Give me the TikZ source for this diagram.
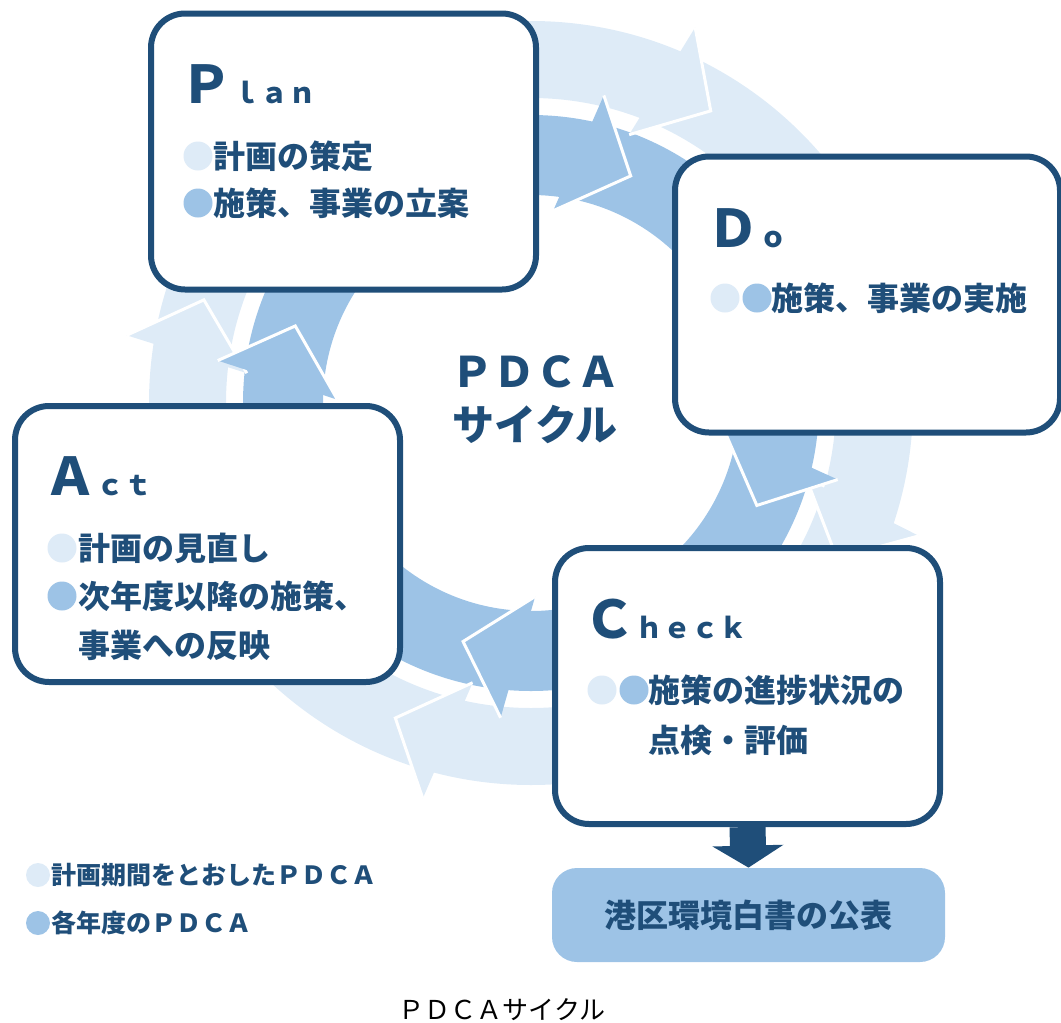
\documentclass[tikz,border=0pt]{standalone}
\usepackage{fontspec}
\setmainfont{Noto Sans CJK JP}
\usetikzlibrary{arrows.meta}
\definecolor{ringlight}{HTML}{DEEBF7}
\definecolor{ringmid}{HTML}{9DC3E6}
\definecolor{navy}{HTML}{1F4E79}

\begin{document}
\begin{tikzpicture}[x=0.5pt, y=-0.5pt,
  stage/.style={rectangle, draw=navy, line width=3pt, fill=white, rounded corners=17pt, minimum width=192.5pt, minimum height=138pt},
  pubbox/.style={rectangle, fill=ringmid, rounded corners=12.5pt, minimum width=196.5pt, minimum height=47pt, text=navy, font=\bfseries\fontsize{16pt}{20pt}\selectfont},
  big/.style={font=\bfseries\fontsize{26pt}{30pt}\selectfont, text=navy, inner sep=0, anchor=base west},
  item/.style={font=\bfseries\fontsize{16pt}{20pt}\selectfont, text=navy, inner sep=0, anchor=west},
  legend/.style={font=\bfseries\fontsize{12.5pt}{15pt}\selectfont, text=navy, inner sep=0, anchor=west},
  dotA/.style={circle, fill=ringlight, minimum size=14.5pt, inner sep=0},
  dotB/.style={circle, fill=ringmid, minimum size=14.5pt, inner sep=0},
  edge/.style={draw=white, line width=1.5pt, line join=miter},
  pubarrow/.style={draw=navy, line width=18pt, -{Triangle[width=35pt, length=11pt]}}
]
\useasboundingbox (0,0) rectangle (1061,1023);

% Cycle rings
\begin{scope}[shift={(531,403)}, y=0.5pt]
  \fill[ringlight, even odd rule] (0,0) circle[radius=382] (0,0) circle[radius=305];
  \fill[ringmid, even odd rule] (0,0) circle[radius=288] (0,0) circle[radius=208];
  \foreach \a in {58.4,-26.9,-113.3,162.5} {
    \fill[ringlight, rotate=\a] (343,0) -- (406,57) -- (280,57) -- cycle;
    \draw[edge, rotate=\a] (406,57) -- (343,0) -- (280,57);
  }
  \foreach \a in {66.3,-24.4,-105.9,161.9} {
    \fill[ringmid, rotate=\a] (248,0) -- (311,57) -- (185,57) -- cycle;
    \draw[edge, rotate=\a] (311,57) -- (248,0) -- (185,57);
  }
\end{scope}

% Stage boxes
\node[stage] (plan) at (343.5,151.5) {};
\node[stage] (do) at (867.5,294.5) {};
\node[stage] (act) at (207.5,544) {};
\node[stage] (check) at (747.5,686) {};

% Plan
\node[big] (plantitle) at (180,103) {Ｐ\fontsize{14pt}{16pt}\selectfont ｌａｎ};
\node[dotA] (plandotA) at (198,156) {};
\node[item] (planA) at (213,156) {計画の策定};
\node[dotB] (plandotB) at (198,203) {};
\node[item] (planB) at (213,203) {施策、事業の立案};

% Do
\node[big] (dotitle) at (707,247) {Ｄ\fontsize{14pt}{16pt}\selectfont ｏ};
\node[dotA] (dodotA) at (725,298) {};
\node[dotB] (dodotB) at (757,298) {};
\node[item] (doA) at (771,298) {施策、事業の実施};

% Act
\node[big] (acttitle) at (44,495) {Ａ\fontsize{14pt}{16pt}\selectfont ｃｔ};
\node[dotA] (actdotA) at (62,548) {};
\node[item] (actA) at (78,548) {計画の見直し};
\node[dotB] (actdotB) at (62,596) {};
\node[item] (actB) at (78,596) {次年度以降の施策、};
\node[item] (actC) at (78,645) {事業への反映};

% Check
\node[big] (checktitle) at (583,638) {Ｃ\fontsize{14pt}{16pt}\selectfont ｈｅｃｋ};
\node[dotA] (checkdotA) at (602,690) {};
\node[dotB] (checkdotB) at (634,690) {};
\node[item] (checkA) at (648,690) {施策の進捗状況の};
\node[item] (checkB) at (648,740) {点検・評価};

% Centre label
\node[font=\bfseries\fontsize{21pt}{26.5pt}\selectfont, text=navy, align=center] (cycle) at (535,400) {ＰＤＣＡ\\サイクル};

% Publication
\node[pubbox] (pub) at (748.5,915) {港区環境白書の公表};
\draw[pubarrow] (check.south) -- (pub.north);

% Legend
\node[dotA, minimum size=12pt] (legdotA) at (38,875) {};
\node[legend] (legA) at (51,875) {計画期間をとおしたＰＤＣＡ};
\node[dotB, minimum size=12pt] (legdotB) at (38,923) {};
\node[legend] (legB) at (51,923) {各年度のＰＤＣＡ};

% Caption
\node[font=\fontsize{13pt}{15pt}\selectfont] (caption) at (502,1010) {ＰＤＣＡサイクル};

\end{tikzpicture}
\end{document}
